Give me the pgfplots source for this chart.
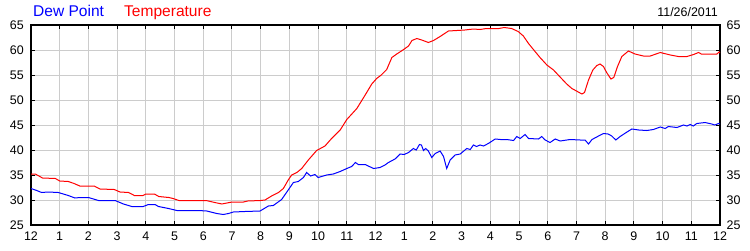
\documentclass[border=0pt]{standalone}
\usepackage{fontspec}
\setmainfont{Liberation Sans}
\usepackage{pgfplots}
\pgfplotsset{compat=1.18}
\definecolor{gridgray}{RGB}{204,204,204}
\definecolor{tblue}{RGB}{0,0,255}
\definecolor{tred}{RGB}{255,0,0}
\begin{document}
\begin{tikzpicture}[x=1bp,y=1bp]
\useasboundingbox (0,0) rectangle (750,250);
\begin{axis}[at={(31bp,25bp)}, anchor=south west, scale only axis,
  width=689bp, height=200bp,
  xmin=0, xmax=24, ymin=25, ymax=65,
  xtick={0,...,24},
  xticklabels={12,1,2,3,4,5,6,7,8,9,10,11,12,1,2,3,4,5,6,7,8,9,10,11,12},
  ytick={25,30,...,65},
  grid=major, major grid style={gridgray, line width=1bp},
  axis line style={black, line width=1.3bp},
  tick style={black, line width=1bp},
  major tick length=4bp, tick align=inside,
  xtick pos=both, ytick pos=both, yticklabel pos=left,
  ticklabel style={font=\fontsize{12.5}{12.5}\selectfont, inner sep=0pt},
  yticklabel style={xshift=-7bp},
  xticklabel style={yshift=-7bp},
  /pgf/number format/assume math mode=true,
  clip=true]
\addplot[tred, line width=1bp] coordinates {
(0,35.2) (0.15,35.2) (0.4,34.4) (0.85,34.3) (1.0,33.8) (1.3,33.7) (1.5,33.3) (1.7,32.8)
(2.2,32.8) (2.4,32.2) (2.9,32.1) (3.1,31.6) (3.4,31.5) (3.6,30.9) (3.9,30.9) (4.0,31.2)
(4.3,31.2) (4.45,30.7) (4.8,30.5) (4.95,30.3) (5.15,29.9) (6.1,29.9) (6.4,29.5) (6.65,29.2)
(7.0,29.6) (7.4,29.6) (7.55,29.8) (8.0,29.9) (8.15,30.0) (8.38,30.8) (8.62,31.5) (8.79,32.3)
(8.96,34.0) (9.08,35.0) (9.26,35.5) (9.43,36.3) (9.66,38.0) (9.95,39.9) (10.24,40.8)
(10.47,42.3) (10.77,44.0) (11.0,46.1) (11.35,48.3) (11.64,51.0) (11.87,53.2) (12.04,54.3)
(12.2,55.0) (12.39,56.1) (12.57,58.5) (12.74,59.2) (12.98,60.1) (13.15,60.8) (13.27,61.9)
(13.44,62.3) (13.61,62.0) (13.84,61.5) (14.02,61.9) (14.25,62.7) (14.54,63.8) (14.83,63.9)
(15.11,64.0) (15.41,64.2) (15.64,64.1) (15.86,64.3) (16.3,64.3) (16.48,64.5) (16.74,64.3)
(16.97,63.7) (17.15,62.8) (17.33,61.3) (17.5,60.1) (17.73,58.5) (17.97,57.0) (18.2,56.0)
(18.43,54.6) (18.66,53.2) (18.84,52.3) (19.0,51.8) (19.19,51.2) (19.28,51.5) (19.42,54.0)
(19.57,56.0) (19.71,56.9) (19.82,57.2) (19.94,56.7) (20.05,55.5) (20.2,54.2) (20.3,54.5)
(20.43,56.7) (20.58,58.7) (20.81,59.8) (21.04,59.2) (21.33,58.8) (21.57,58.8) (21.92,59.5)
(22.27,59.0) (22.55,58.7) (22.85,58.7) (23.08,59.1) (23.25,59.5) (23.35,59.2) (23.89,59.2)
(23.97,59.6) (24,59.4)
};
\addplot[tblue, line width=1bp] coordinates {
(0,32.3) (0.2,31.9) (0.37,31.5) (0.6,31.6) (0.95,31.5) (1.3,30.9) (1.53,30.4) (1.71,30.5)
(2.0,30.5) (2.35,29.9) (2.93,29.9) (3.22,29.2) (3.51,28.7) (3.91,28.7) (4.09,29.1) (4.32,29.1)
(4.44,28.7) (4.79,28.3) (5.08,27.9) (5.83,27.9) (6.12,27.8) (6.47,27.3) (6.7,27.1) (6.88,27.3)
(7.05,27.6) (7.45,27.7) (7.98,27.8) (8.27,28.8) (8.44,28.9) (8.73,30.1) (8.96,32.0) (9.14,33.5)
(9.31,33.7) (9.49,34.5) (9.6,35.5) (9.74,34.8) (9.89,35.1) (10.0,34.5) (10.3,35.0) (10.53,35.2)
(10.77,35.7) (11.0,36.3) (11.17,36.7) (11.3,37.5) (11.4,37.1) (11.64,37.1) (11.75,36.8)
(11.93,36.3) (12.16,36.5) (12.33,37.0) (12.45,37.5) (12.68,38.2) (12.86,39.2) (13.0,39.1)
(13.15,39.5) (13.32,40.3) (13.42,40.0) (13.53,41.1) (13.6,41.0) (13.67,39.9) (13.75,40.3)
(13.84,39.8) (13.96,38.5) (14.08,39.3) (14.25,39.8) (14.37,38.7) (14.48,36.3) (14.6,38.0)
(14.77,39.0) (14.95,39.2) (15.18,40.3) (15.3,40.1) (15.41,41.0) (15.52,40.7) (15.64,41.0)
(15.76,40.8) (15.93,41.3) (16.17,42.2) (16.35,42.1) (16.57,42.1) (16.81,41.9) (16.92,42.7)
(17.04,42.3) (17.21,43.1) (17.33,42.3) (17.68,42.2) (17.79,42.7) (17.91,42.0) (18.08,41.5)
(18.26,42.2) (18.43,41.8) (18.78,42.1) (19.13,42.0) (19.3,42.0) (19.42,41.2) (19.54,42.1)
(19.77,42.8) (19.94,43.3) (20.1,43.2) (20.23,42.8) (20.37,42.0) (20.52,42.7) (20.76,43.6)
(20.93,44.2) (21.17,44.0) (21.45,43.9) (21.68,44.1) (21.92,44.6) (22.09,44.3) (22.2,44.7)
(22.5,44.5) (22.73,45.0) (22.85,44.8) (22.96,45.1) (23.07,44.8) (23.19,45.3) (23.48,45.5)
(23.71,45.2) (23.82,45.0) (23.95,45.3) (24,45.2)
};
\end{axis}
\begin{axis}[at={(31bp,25bp)}, anchor=south west, scale only axis,
  width=689bp, height=200bp,
  xmin=0, xmax=24, ymin=25, ymax=65,
  xtick=\empty, ytick={25,30,...,65},
  ytick pos=right, yticklabel pos=right,
  major tick length=0pt, axis line style={draw=none},
  ticklabel style={font=\fontsize{12.5}{12.5}\selectfont, inner sep=0pt},
  yticklabel style={xshift=6.5bp},
  /pgf/number format/assume math mode=true]
\end{axis}
\node[anchor=base west, inner sep=0pt, text=tblue, font=\fontsize{15.6}{16}\selectfont] at (33bp,233bp) {Dew Point};
\node[anchor=base west, inner sep=0pt, text=tred, font=\fontsize{15.6}{16}\selectfont] at (124bp,233bp) {Temperature};
\node[anchor=base east, inner sep=0pt, text=black, font=\fontsize{12.5}{14}\selectfont] at (718bp,233bp) {11/26/2011};
\end{tikzpicture}
\end{document}
